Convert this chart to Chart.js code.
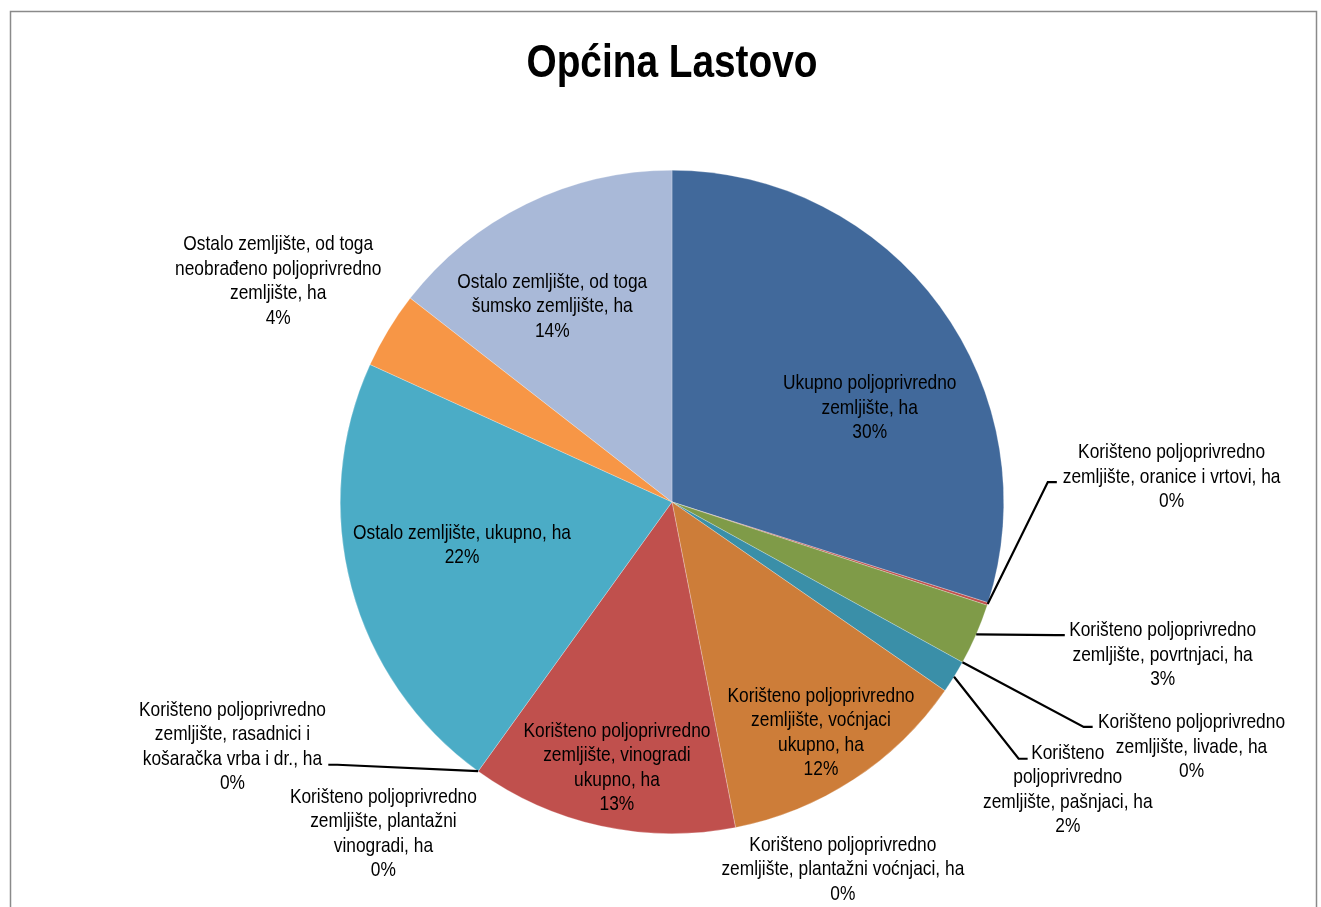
<!DOCTYPE html>
<html>
<head>
<meta charset="utf-8">
<title>Općina Lastovo</title>
<script src="https://cdn.jsdelivr.net/npm/chart.js@4.4.0/dist/chart.umd.min.js"></script>
<style>
  html, body { margin: 0; padding: 0; background: #fff; overflow: hidden; }
  canvas { display: block; }
</style>
</head>
<body>
<canvas id="mycanvas" width="1321" height="907"></canvas>
<script>
var chartTitle = 'Općina Lastovo';

var categories = [
  'Ukupno poljoprivredno zemljište, ha',
  'Korišteno poljoprivredno zemljište, oranice i vrtovi, ha',
  'Korišteno poljoprivredno zemljište, povrtnjaci, ha',
  'Korišteno poljoprivredno zemljište, livade, ha',
  'Korišteno poljoprivredno zemljište, pašnjaci, ha',
  'Korišteno poljoprivredno zemljište, voćnjaci ukupno, ha',
  'Korišteno poljoprivredno zemljište, plantažni voćnjaci, ha',
  'Korišteno poljoprivredno zemljište, vinogradi ukupno, ha',
  'Korišteno poljoprivredno zemljište, plantažni vinogradi, ha',
  'Korišteno poljoprivredno zemljište, rasadnici i košaračka vrba i dr., ha',
  'Ostalo zemljište, ukupno, ha',
  'Ostalo zemljište, od toga neobrađeno poljoprivredno zemljište, ha',
  'Ostalo zemljište, od toga šumsko zemljište, ha'
];

// hectares
var hectares = [224.3, 1.0, 22.4, 0, 12.0, 92.3, 0, 97.5, 0, 0, 164.0, 28.0, 108.5];

var sliceColors = ['#41699B', '#C0504D', '#7F9B48', '#8064A2', '#3A8FA8', '#CD7D39',
                   '#9BBB59', '#C0504D', '#8064A2', '#4BACC6', '#4BACC6', '#F79646', '#A9B9D8'];

// how each label is wrapped
var labelLines = [
  ['Ukupno poljoprivredno', 'zemljište, ha'],
  ['Korišteno poljoprivredno', 'zemljište, oranice i vrtovi, ha'],
  ['Korišteno poljoprivredno', 'zemljište, povrtnjaci, ha'],
  ['Korišteno poljoprivredno', 'zemljište, livade, ha'],
  ['Korišteno', 'poljoprivredno', 'zemljište, pašnjaci, ha'],
  ['Korišteno poljoprivredno', 'zemljište, voćnjaci', 'ukupno, ha'],
  ['Korišteno poljoprivredno', 'zemljište, plantažni voćnjaci, ha'],
  ['Korišteno poljoprivredno', 'zemljište, vinogradi', 'ukupno, ha'],
  ['Korišteno poljoprivredno', 'zemljište, plantažni', 'vinogradi, ha'],
  ['Korišteno poljoprivredno', 'zemljište, rasadnici i', 'košaračka vrba i dr., ha'],
  ['Ostalo zemljište, ukupno, ha'],
  ['Ostalo zemljište, od toga', 'neobrađeno poljoprivredno', 'zemljište, ha'],
  ['Ostalo zemljište, od toga', 'šumsko zemljište, ha']
];

// label centre, in pie radii from the pie centre
var labelPos = [
  [0.596, -0.283], [1.506, -0.075], [1.479, 0.461], [1.566, 0.738], [1.193, 0.867],
  [0.449, 0.696], [0.515, 1.108], [-0.166, 0.801], [-0.870, 1.000], [-1.325, 0.738],
  [-0.633, 0.130], [-1.187, -0.666], [-0.361, -0.590]
];

// where the leader line meets the label (null = no leader)
var leaderEnd = [
  null, [1.160, -0.060], [1.184, 0.401], [1.268, 0.678], [1.072, 0.774],
  null, null, null, null, [-1.036, 0.792],
  null, null, null
];

// no Arial Narrow here, so squeeze Liberation Sans to the narrow widths
var labelFont = '21px "Liberation Sans Narrow", "Liberation Sans", Arial, sans-serif';
var titleFont = 'bold 46px "Liberation Sans Narrow", "Liberation Sans", Arial, sans-serif';
var lineGap = 24.5;

function squeezedText(ctx, text, x, y, sx) {
  ctx.save();
  ctx.translate(x, y);
  ctx.scale(sx, 1);
  ctx.fillText(text, 0, 0);
  ctx.restore();
}

var framePlugin = {
  id: 'frame',
  beforeDraw: function(chart) {
    var ctx = chart.ctx;
    ctx.save();
    ctx.strokeStyle = '#8a8a8a';
    ctx.lineWidth = 1.5;
    ctx.strokeRect(10.5, 11.5, 1306, 1000);

    // title
    var meta = chart.getDatasetMeta(0);
    var cx = meta.data.length ? meta.data[0].x : chart.width / 2;
    ctx.font = titleFont;
    ctx.fillStyle = '#000';
    ctx.textAlign = 'center';
    ctx.textBaseline = 'alphabetic';
    var tsx = 291 / ctx.measureText(chartTitle).width;
    squeezedText(ctx, chartTitle, cx, 77, Math.min(1, tsx));
    ctx.restore();
  }
};

var labelPlugin = {
  id: 'sliceLabels',
  afterDraw: function(chart) {
    var ctx = chart.ctx;
    var meta = chart.getDatasetMeta(0);
    var total = hectares.reduce(function(a, b) { return a + b; }, 0);
    ctx.save();
    ctx.font = labelFont;
    ctx.fillStyle = '#000';
    ctx.textAlign = 'center';
    ctx.textBaseline = 'middle';
    ctx.strokeStyle = '#000';
    ctx.lineWidth = 2.2;
    var sx = Math.min(1, 187 / ctx.measureText('Korišteno poljoprivredno').width);

    meta.data.forEach(function(arc, i) {
      var p = arc.getProps(['x', 'y', 'startAngle', 'endAngle', 'outerRadius'], true);
      var r = p.outerRadius;
      var mid = (p.startAngle + p.endAngle) / 2;

      if (leaderEnd[i]) {
        var x0 = p.x + r * Math.cos(mid);
        var y0 = p.y + r * Math.sin(mid);
        var ex = p.x + leaderEnd[i][0] * r;
        var ey = p.y + leaderEnd[i][1] * r;
        var kx = ex + (ex > p.x ? -9 : 9);
        ctx.beginPath();
        ctx.moveTo(x0, y0);
        ctx.lineTo(kx, ey);
        ctx.lineTo(ex, ey);
        ctx.stroke();
      }

      var lines = labelLines[i].concat([Math.round(hectares[i] / total * 100) + '%']);
      var cx = p.x + labelPos[i][0] * r;
      var cy = p.y + labelPos[i][1] * r;
      lines.forEach(function(t, k) {
        squeezedText(ctx, t, cx, cy + (k - (lines.length - 1) / 2) * lineGap, sx);
      });
    });
    ctx.restore();
  }
};

var ctx = document.getElementById('mycanvas');

var pieChart = new Chart(ctx, {
  type: 'pie',
  data: {
    labels: categories,
    datasets: [{
      data: hectares,
      backgroundColor: sliceColors,
      borderColor: 'rgba(255,255,255,0.5)',
      borderWidth: 0.5
    }]
  },
  options: {
    responsive: false,
    animation: false,
    devicePixelRatio: 1,
    layout: { padding: { top: 170, left: 340, right: 317, bottom: 73 } },
    plugins: {
      legend: { display: false },
      tooltip: { enabled: false },
      title: { display: false }
    }
  },
  plugins: [framePlugin, labelPlugin]
});
</script>
</body>
</html>
